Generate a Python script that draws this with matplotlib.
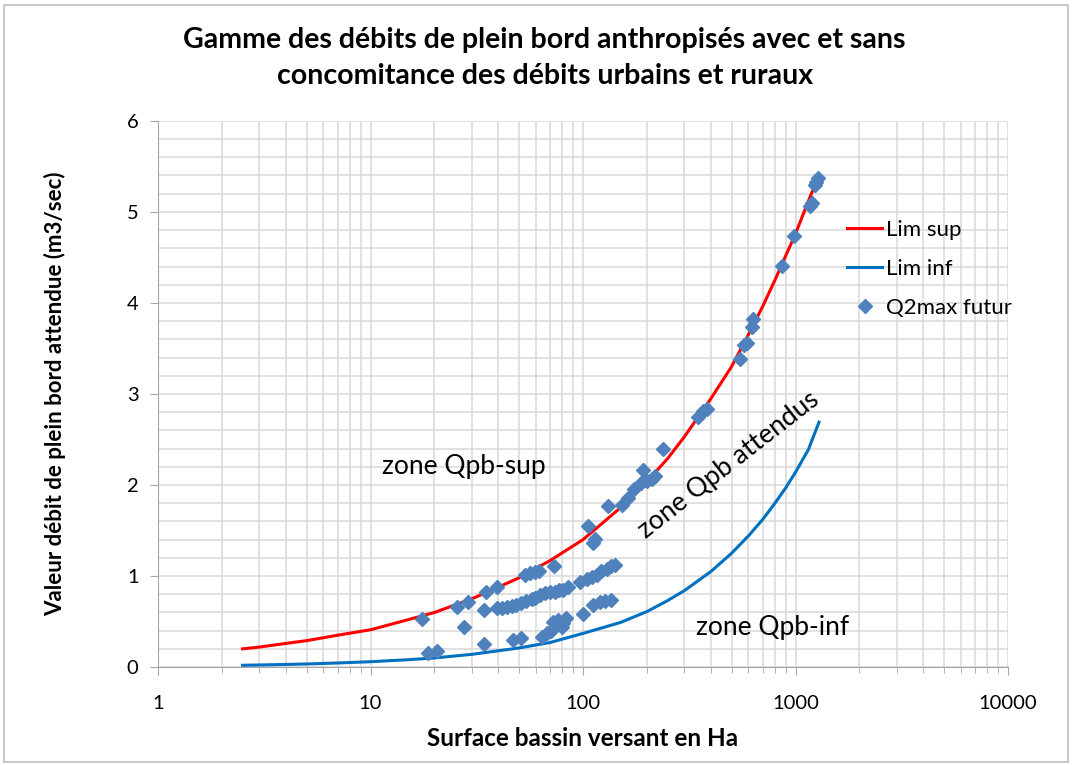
import matplotlib
matplotlib.use("Agg")
import matplotlib.pyplot as plt
from matplotlib.patches import Rectangle
from matplotlib.ticker import LogLocator, MultipleLocator, NullFormatter, FixedLocator, FixedFormatter

plt.rcParams['font.family'] = ['Lato', 'DejaVu Sans']

# limit curves
curve_x = [2.5, 3, 4, 5, 7, 10, 15, 20, 30, 50, 70, 100, 150, 200, 250, 300, 400, 500, 600, 700, 800, 900, 1000, 1150, 1290]
lim_sup = [0.20, 0.22, 0.26, 0.29, 0.35, 0.41, 0.52, 0.60, 0.75, 0.98, 1.17, 1.40, 1.75, 2.04, 2.29, 2.53, 2.95, 3.30, 3.65, 3.96, 4.25, 4.52, 4.76, 5.12, 5.40]
lim_inf = [0.02, 0.023, 0.029, 0.034, 0.045, 0.059, 0.081, 0.10, 0.14, 0.21, 0.27, 0.37, 0.49, 0.61, 0.73, 0.84, 1.05, 1.25, 1.44, 1.62, 1.80, 1.97, 2.14, 2.39, 2.69]

# Q2max futur points
q_x = [17.4, 18.7, 20.6, 25.6, 27.5, 28.9, 34.3, 34.3, 35.0, 39.3,
       39.3, 41.6, 44.0, 46.3, 48.5, 51.1, 54.0, 57.4, 59.4, 47.0,
       50.9, 53.5, 56.3, 59.3, 62.0, 73.0, 62.8, 66.3, 69.9, 73.8,
       77.4, 80.8, 85.3, 64.0, 67.5, 70.4, 72.5, 76.5, 80.8, 83.2,
       79.3, 96.8, 104, 110, 116, 122, 129, 136, 141, 100,
       112, 120, 127, 135, 106, 114, 112, 131, 152, 163,
       173, 187, 192, 200, 211, 218, 239, 349, 368, 382,
       548, 572, 589, 622, 633, 861, 987, 1170, 1192, 1236,
       1250, 1271]
q_y = [0.53, 0.15, 0.18, 0.66, 0.44, 0.72, 0.25, 0.63, 0.83, 0.88,
       0.645, 0.65, 0.66, 0.67, 0.68, 0.70, 0.73, 0.75, 0.76, 0.30,
       0.32, 1.01, 1.03, 1.04, 1.05, 1.11, 0.79, 0.81, 0.82, 0.83,
       0.85, 0.85, 0.88, 0.33, 0.37, 0.40, 0.50, 0.52, 0.48, 0.54,
       0.44, 0.94, 0.97, 0.99, 1.01, 1.05, 1.08, 1.11, 1.12, 0.58,
       0.68, 0.72, 0.73, 0.74, 1.55, 1.41, 1.36, 1.77, 1.78, 1.86,
       1.96, 2.02, 2.16, 2.04, 2.07, 2.10, 2.40, 2.75, 2.81, 2.83,
       3.38, 3.54, 3.56, 3.74, 3.82, 4.41, 4.74, 5.06, 5.10, 5.30,
       5.33, 5.37]

x_ticks = [1, 10, 100, 1000, 10000]
x_labels = ["1", "10", "100", "1000", "10000"]

fig = plt.figure(figsize=(10.72, 7.65), dpi=100)
ax = fig.add_axes([0.1474, 0.128, 0.7929, 0.714])

grid_c = "#d9d9d9"
ax.set_xscale("log")
ax.set_xlim(1, 10000)
ax.set_ylim(0, 6)
ax.xaxis.set_major_locator(FixedLocator(x_ticks))
ax.xaxis.set_major_formatter(FixedFormatter(x_labels))
ax.xaxis.set_minor_locator(LogLocator(base=10, subs=range(2, 10)))
ax.xaxis.set_minor_formatter(NullFormatter())
ax.yaxis.set_major_locator(MultipleLocator(1))
ax.yaxis.set_minor_locator(MultipleLocator(0.2))
ax.grid(True, which="both", color=grid_c, lw=1.1)
ax.set_axisbelow(True)

for s in ["top", "right"]:
    ax.spines[s].set_visible(False)
for s in ["left", "bottom"]:
    ax.spines[s].set_color("#a6a6a6")
ax.tick_params(axis="both", which="major", labelsize=14.5, color="#a6a6a6", length=6, pad=8)
ax.tick_params(axis="y", which="minor", length=0)
ax.tick_params(axis="x", which="minor", color="#a6a6a6", length=4)
ax.tick_params(axis="x", which="major", pad=14)

ax.plot(curve_x, lim_sup, color="#ff0000", lw=2.2, label="Lim sup", zorder=3)
ax.plot(curve_x, lim_inf, color="#0070c0", lw=2.2, label="Lim inf", zorder=3)
ax.plot(q_x, q_y, ls="none", marker="D", ms=7, color="#4f81bd", label="Q2max futur", zorder=4)

ax.text(11.3, 2.2, "zone Qpb-sup", fontsize=19, va="center", ha="left")
ax.text(485, 2.22, "zone Qpb attendus", fontsize=19, va="center", ha="center", rotation=38)
ax.text(340, 0.44, "zone Qpb-inf", fontsize=19, va="center", ha="left")

ax.set_xlabel("Surface bassin versant en Ha", fontsize=17.5, fontweight="bold", labelpad=11)
ax.set_ylabel("Valeur débit de plein bord attendue (m3/sec)", fontsize=16, fontweight="bold", labelpad=44)
fig.text(0.508, 0.924, "Gamme des débits de plein bord anthropisés avec et sans\nconcomitance des débits urbains et ruraux",
         ha="center", va="center", fontsize=20.5, fontweight="bold", linespacing=1.45)

leg = ax.legend(loc="upper left", bbox_to_anchor=(0.80, 0.835), frameon=False, fontsize=16,
                handlelength=1.6, handletextpad=0.15, labelspacing=0.85, borderaxespad=0)

fig.patches.append(Rectangle((0.004, 0.004), 0.992, 0.990, transform=fig.transFigure,
                             fill=False, edgecolor="#bfbfbf", lw=1.2))

fig.savefig("out.png", dpi=100)
